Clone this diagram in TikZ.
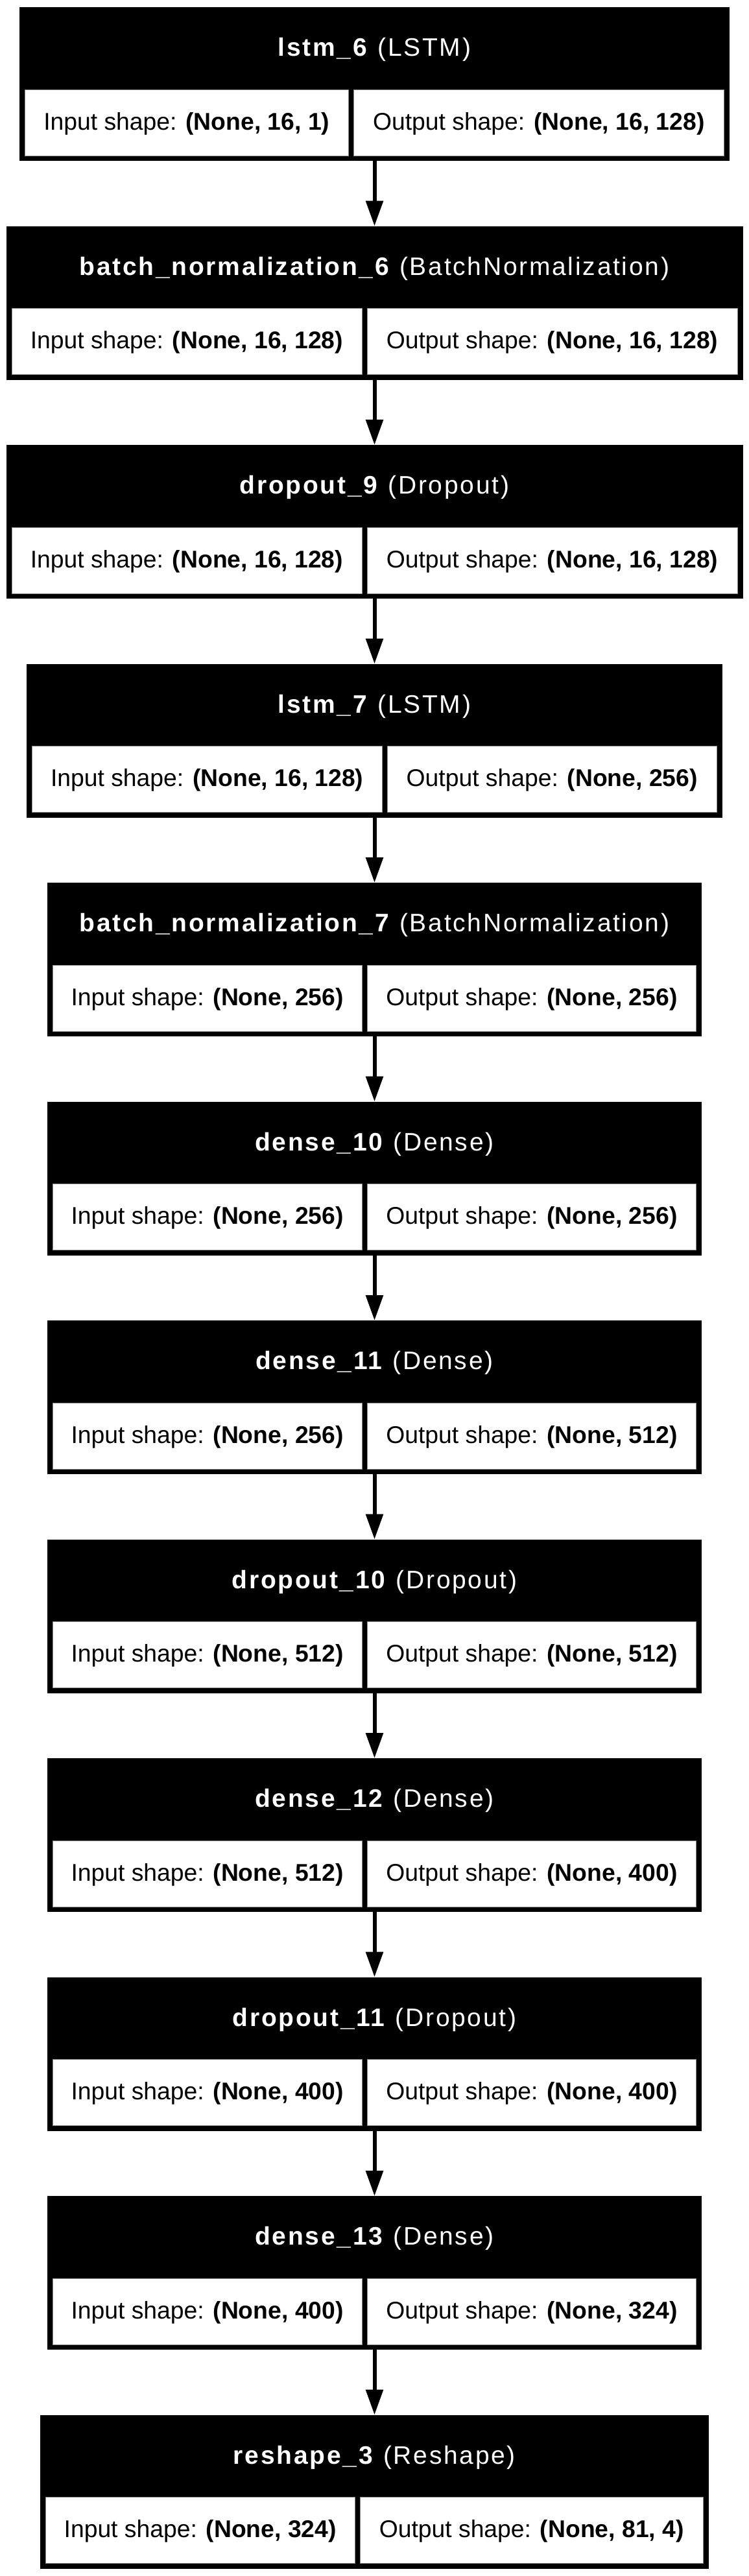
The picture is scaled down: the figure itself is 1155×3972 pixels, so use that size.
\documentclass[tikz,border=0pt]{standalone}
\usepackage{fontspec}
\setmainfont{Liberation Sans}
\newfontfamily\hdrfamily[LetterSpace=7]{Liberation Sans}
\usetikzlibrary{arrows.meta}
\tikzset{
  blk/.style={fill=black, inner sep=0pt, outer sep=0pt, minimum height=237pt},
  hdr/.style={text=white, anchor=base, inner sep=0pt, font=\hdrfamily\fontsize{39}{40}\selectfont},
  cell/.style={fill=white, draw=black!45, line width=1pt, inner sep=0pt, outer sep=0pt,
    minimum height=102pt, text height=30pt, text depth=8pt, text=black,
    font=\fontsize{37.3}{40}\selectfont},
  arr/.style={line width=6pt, -{Triangle[length=39pt,width=26pt]}}
}
\newcommand\mylayer[8]{%
  \pgfmathsetmacro\Wd{1155-2*#3}%
  \pgfmathsetmacro\Cy{#2+118.5}%
  \node[blk, minimum width=\Wd pt] (b#1) at (577.5,\Cy) {};
  \pgfmathsetmacro\Hy{#2+75.5}%
  \node[hdr] (h#1) at (577.5,\Hy) {#6};
  \pgfmathsetmacro\Ly{#2+178}%
  \pgfmathsetmacro\LxA{#3+8.5}%
  \pgfmathsetmacro\LW{#4-\LxA}%
  \pgfmathsetmacro\LCx{(\LxA+#4)/2}%
  \pgfmathsetmacro\RxB{1155-#3-8.5}%
  \pgfmathsetmacro\RW{\RxB-#5}%
  \pgfmathsetmacro\RCx{(\RxB+#5)/2}%
  \node[cell, minimum width=\LW pt] (i#1) at (\LCx,\Ly) {Input shape: \textbf{#7}};
  \node[cell, minimum width=\RW pt] (o#1) at (\RCx,\Ly) {Output shape: \textbf{#8}};
}
\begin{document}
\begin{tikzpicture}[x=1pt,y=-1pt]
\useasboundingbox (0,0) rectangle (1155,3972);
\mylayer{1}{11}{30}{537}{545}{\textbf{lstm\_6} (LSTM)}{(None, 16, 1)}{(None, 16, 128)}
\mylayer{2}{348.5}{9.5}{558}{566}{\textbf{batch\_normalization\_6} (BatchNormalization)}{(None, 16, 128)}{(None, 16, 128)}
\mylayer{3}{686}{9.5}{558}{566}{\textbf{dropout\_9} (Dropout)}{(None, 16, 128)}{(None, 16, 128)}
\mylayer{4}{1023.5}{41}{589}{597}{\textbf{lstm\_7} (LSTM)}{(None, 16, 128)}{(None, 256)}
\mylayer{5}{1361}{72.7}{558}{566}{\textbf{batch\_normalization\_7} (BatchNormalization)}{(None, 256)}{(None, 256)}
\mylayer{6}{1698.5}{72.7}{558}{566}{\textbf{dense\_10} (Dense)}{(None, 256)}{(None, 256)}
\mylayer{7}{2036}{72.7}{558}{566}{\textbf{dense\_11} (Dense)}{(None, 256)}{(None, 512)}
\mylayer{8}{2373.5}{72.7}{558}{566}{\textbf{dropout\_10} (Dropout)}{(None, 512)}{(None, 512)}
\mylayer{9}{2711}{72.7}{558}{566}{\textbf{dense\_12} (Dense)}{(None, 512)}{(None, 400)}
\mylayer{10}{3048.5}{72.7}{558}{566}{\textbf{dropout\_11} (Dropout)}{(None, 400)}{(None, 400)}
\mylayer{11}{3386}{72.7}{558}{566}{\textbf{dense\_13} (Dense)}{(None, 400)}{(None, 324)}
\mylayer{12}{3723.5}{62}{547}{555}{\textbf{reshape\_3} (Reshape)}{(None, 324)}{(None, 81, 4)}
\foreach \a/\b in {1/2,2/3,3/4,4/5,5/6,6/7,7/8,8/9,9/10,10/11,11/12}
  \draw[arr] (b\a.south) -- (b\b.north);
\end{tikzpicture}
\end{document}
